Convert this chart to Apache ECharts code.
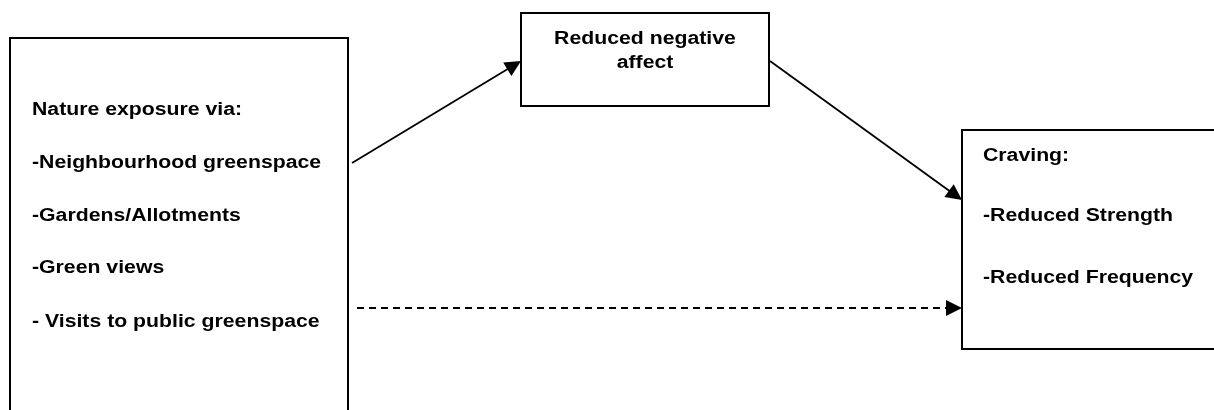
<!DOCTYPE html>
<html>
<head>
<meta charset="utf-8">
<script src="https://cdn.jsdelivr.net/npm/echarts@6/dist/echarts.min.js"></script>
<style>
html,body{margin:0;padding:0;background:#fff;}
#chart{width:1214px;height:410px;}
</style>
</head>
<body>
<div id="chart"></div>
<script>
// diagram space: x 0..1214, y 0..410 (top down)
var boxNames = ['Nature exposure', 'Reduced negative affect', 'Craving'];
var boxLeft = [10, 521, 962];
var boxTop = [38, 13, 130];
var boxRight = [348, 769, 1222];
var boxBottom = [420, 106, 349];

// text lines
var textLines = [
	'Nature exposure via:',
	'-Neighbourhood greenspace',
	'-Gardens/Allotments',
	'-Green views',
	'- Visits to public greenspace',
	'Reduced negative',
	'affect',
	'Craving:',
	'-Reduced Strength',
	'-Reduced Frequency'
];
var textX = [32, 32, 32, 32, 32, 645, 645, 983, 983, 983];
var textY = [110.5, 163, 216, 268.5, 322, 39, 63, 156, 216, 278];
var textAnchor = ['left', 'left', 'left', 'left', 'left', 'center', 'center', 'left', 'left', 'left'];

// arrows (solid)
var solidFromX = [352, 770];
var solidFromY = [163, 61];
var solidToX = [521, 962];
var solidToY = [61, 200];
// arrow (dashed)
var dashFromX = [357];
var dashFromY = [308];
var dashToX = [962];
var dashToY = [308];

function zip(a, b, c, d) {
	var out = [];
	for (var i = 0; i < a.length; i++) {
		out.push([a[i], b[i], c[i], d[i]]);
	}
	return out;
}

// line + filled triangle head
function renderArrow(dashed) {
	return function (params, api) {
		var p0 = api.coord([api.value(0), api.value(1)]);
		var p1 = api.coord([api.value(2), api.value(3)]);
		var dx = p1[0] - p0[0], dy = p1[1] - p0[1];
		var len = Math.sqrt(dx * dx + dy * dy);
		var ux = dx / len, uy = dy / len;
		var headLen = 16, headHalf = 8;
		var bx = p1[0] - ux * headLen, by = p1[1] - uy * headLen;
		return {
			type: 'group',
			children: [{
				type: 'line',
				shape: { x1: p0[0], y1: p0[1], x2: bx + ux, y2: by + uy },
				style: { stroke: '#000', lineWidth: 1.8, lineDash: dashed ? [7, 5] : null }
			}, {
				type: 'polygon',
				shape: { points: [[p1[0], p1[1]], [bx - uy * headHalf, by + ux * headHalf], [bx + uy * headHalf, by - ux * headHalf]] },
				style: { fill: '#000' }
			}]
		};
	};
}

var boxData = [];
for (var i = 0; i < boxNames.length; i++) {
	boxData.push({ name: boxNames[i], value: [boxLeft[i], boxTop[i], boxRight[i], boxBottom[i]] });
}
var textData = [];
for (var i = 0; i < textLines.length; i++) {
	textData.push({ name: textLines[i], value: [textX[i], textY[i]], anchor: textAnchor[i] });
}

var myChart = echarts.init(document.getElementById('chart'));
var option = {
	backgroundColor: '#fff',
	animation: false,
	grid: { left: 0, right: 0, top: 0, bottom: 0 },
	xAxis: { type: 'value', min: 0, max: 1214, show: false },
	yAxis: { type: 'value', min: 0, max: 410, inverse: true, show: false },
	series: [
		{
			type: 'custom',
			name: 'boxes',
			clip: true,
			data: boxData,
			renderItem: function (params, api) {
				var a = api.coord([api.value(0), api.value(1)]);
				var b = api.coord([api.value(2), api.value(3)]);
				return {
					type: 'rect',
					shape: { x: a[0], y: a[1], width: b[0] - a[0], height: b[1] - a[1] },
					style: { fill: '#fff', stroke: '#000', lineWidth: 2 }
				};
			}
		},
		{
			type: 'custom',
			name: 'arrows',
			data: zip(solidFromX, solidFromY, solidToX, solidToY),
			renderItem: renderArrow(false)
		},
		{
			type: 'custom',
			name: 'dashed',
			data: zip(dashFromX, dashFromY, dashToX, dashToY),
			renderItem: renderArrow(true)
		},
		{
			type: 'custom',
			name: 'labels',
			data: textData,
			renderItem: function (params, api) {
				var p = api.coord([api.value(0), api.value(1)]);
				var d = textData[params.dataIndex];
				return {
					type: 'text',
					x: p[0],
					y: p[1],
					scaleX: 1.18,
					style: {
						text: d.name,
						fontSize: 18,
						fontWeight: 'bold',
						fontFamily: '"Liberation Sans", Arial, sans-serif',
						fill: '#000',
						align: d.anchor,
						verticalAlign: 'middle'
					}
				};
			}
		}
	]
};
myChart.setOption(option);
</script>
</body>
</html>
